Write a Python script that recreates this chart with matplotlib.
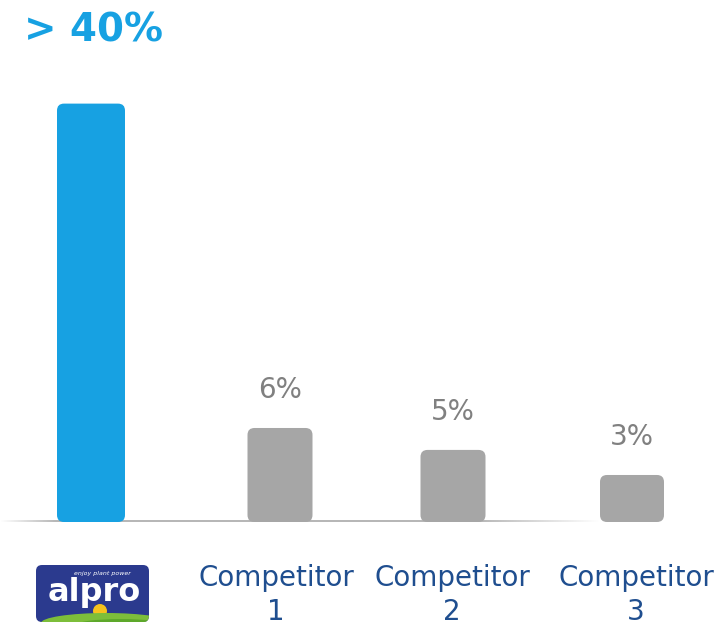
import numpy as np
import matplotlib.pyplot as plt
from matplotlib.patches import FancyBboxPatch, Ellipse, Circle

# data
brands = ["alpro", "Competitor\n1", "Competitor\n2", "Competitor\n3"]
heights = [26.7, 6.0, 4.6, 3.0]          # bar heights as drawn (% scale)
value_labels = ["> 40%", "6%", "5%", "3%"]

# layout
xs = [91, 280, 453, 632]
label_xs = [91, 276, 452, 636]
widths = [68, 65, 65, 64]
colors = ["#17A1E2", "#A6A6A6", "#A6A6A6", "#A6A6A6"]
blue_dark = "#1F4E8F"

fig = plt.figure(figsize=(7.2, 6.27), dpi=100)
base_px = 105
ax = fig.add_axes([0, base_px / 627, 1, 1 - base_px / 627])
px_per_unit = 15.67
ax.set_xlim(0, 720)
ax.set_ylim(0, (627 - base_px) / px_per_unit)
ax.axis("off")

bars = ax.bar(xs, heights, width=widths, color=colors)
aspect = 1 / px_per_unit
for b, c in zip(bars, colors):
    x, y = b.get_x(), b.get_y()
    w, h = b.get_width(), b.get_height()
    b.remove()
    ax.add_patch(FancyBboxPatch((x, y), w, h,
                                boxstyle="round,pad=0,rounding_size=7",
                                mutation_aspect=aspect, fc=c, ec="none",
                                zorder=3))

# baseline with faded ends (gradient image)
lx = np.linspace(0, 600, 600)
alph = np.clip(np.minimum(lx / 55, (600 - lx) / 120), 0, 1)
grad = np.zeros((1, len(lx), 4))
grad[..., :3] = 0.72
grad[0, :, 3] = alph
ax.imshow(grad, extent=(0, 600, -0.07, 0.07), aspect="auto",
          interpolation="bilinear", zorder=2)
ax.set_xlim(0, 720)
ax.set_ylim(0, (627 - base_px) / px_per_unit)

# value labels
for x, h, lab in zip(xs[1:], heights[1:], value_labels[1:]):
    ax.text(x, h + 1.5, lab, ha="center", va="bottom", fontsize=20,
            color="#808080", family="DejaVu Sans")
fig.text(24 / 720, 1 - 30 / 627, value_labels[0], ha="left", va="center",
         fontsize=28, color="#17A1E2", family="DejaVu Sans", fontweight="bold")

# category labels
for x, lab in zip(label_xs[1:], brands[1:]):
    fig.text(x / 720, 1 - 564 / 627, lab, ha="center", va="top",
             fontsize=20, color=blue_dark, family="DejaVu Sans",
             linespacing=1.28)

# alpro logo
lax = fig.add_axes([36 / 720, 1 - 623 / 627, 114 / 720, 60 / 627])
lax.set_xlim(0, 114)
lax.set_ylim(0, 60)
lax.axis("off")
box = FancyBboxPatch((0, 1), 113, 57, boxstyle="round,pad=0,rounding_size=6",
                     fc="#2B3A8E", ec="none")
lax.add_patch(box)
for p in [Circle((64, 12), 7, fc="#F6C21C", ec="none", zorder=1),
          Ellipse((70, 0), 130, 20, fc="#7DBE3A", ec="none", zorder=2),
          Ellipse((85, -2), 90, 12, fc="#5DA82A", ec="none", zorder=2)]:
    lax.add_patch(p)
    p.set_clip_path(box)
lax.text(58, 30, "alpro", ha="center", va="center", fontsize=23,
         color="white", family="DejaVu Sans", fontweight="bold", zorder=4)
lax.text(66, 49, "enjoy plant power", ha="center", va="center", fontsize=4.5,
         color="white", style="italic", zorder=4)

fig.savefig("out.png", dpi=100)
